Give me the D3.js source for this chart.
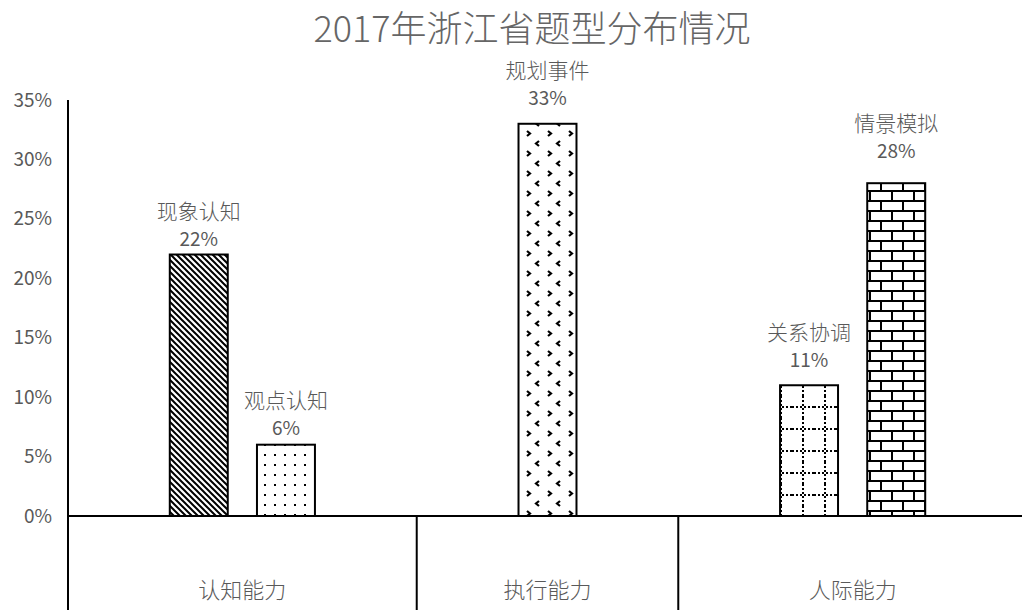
<!DOCTYPE html>
<html>
<head>
<meta charset="utf-8">
<script src="https://cdn.jsdelivr.net/npm/d3@7"></script>
<style>
  body { margin: 0; background: #fff; }
</style>
</head>
<body>
<div id="chart"></div>
<script>
// Chart data - groups of the category axis and one slot per sub category
// (empty names are the blank slots of the original multi-level axis)
const titleText = '2017年浙江省题型分布情况'
const groupNames = ['认知能力', '执行能力', '人际能力']
const barNames = ['', '现象认知', '观点认知', '', '', '规划事件', '', '', '关系协调', '情景模拟', '']
const barGroups = [0, 0, 0, 0, 1, 1, 1, 2, 2, 2, 2]
const barValues = [null, 0.22, 0.06, null, null, 0.33, null, null, 0.11, 0.28, null]
const yTicks = [0, 0.05, 0.10, 0.15, 0.20, 0.25, 0.30, 0.35]

// Fill pattern used for each named bar
const patternFor = {
  '现象认知': 'p-diag',
  '观点认知': 'p-dots',
  '规划事件': 'p-divot',
  '关系协调': 'p-grid',
  '情景模拟': 'p-brick'
}
// Labels were moved by hand in the original, so gap (px) above each bar
const labelGap = {
  '现象认知': 16,
  '观点认知': 17,
  '规划事件': 26,
  '关系协调': 25,
  '情景模拟': 32
}

const width = 1022
const height = 610
const margin = {left: 68, right: -5, top: 100, bottom: 94}
const textColor = '#595959'
const font = '"Noto Sans CJK SC", "Noto Sans", sans-serif'

const svg = d3.select('#chart')
  .append('svg')
  .attr('width', width)
  .attr('height', height)
  .style('font-family', font)

svg.append('rect')
  .attr('width', width)
  .attr('height', height)
  .attr('fill', '#fff')

// Patterns
const defs = svg.append('defs')

function makePattern(id, w, h) {
  const p = defs.append('pattern')
    .attr('id', id)
    .attr('patternUnits', 'userSpaceOnUse')
    .attr('width', w).attr('height', h)
  p.append('rect').attr('width', w).attr('height', h).attr('fill', '#fff')
  return p
}

makePattern('p-diag', 6, 6).append('path')
  .attr('d', 'M-1,-1 L7,7 M-4,2 L1,7 M2,-4 L7,1')
  .attr('stroke', '#000')
  .attr('stroke-width', 2)

makePattern('p-dots', 10, 10).append('rect')
  .attr('x', 4).attr('y', 4)
  .attr('width', 2).attr('height', 2)
  .attr('fill', '#000')

makePattern('p-divot', 21, 20).append('path')
  .attr('d', 'M14,1 L11,3.5 L14,6 M2,11 L5,13.5 L2,16')
  .attr('fill', 'none')
  .attr('stroke', '#000')
  .attr('stroke-width', 2.2)

makePattern('p-grid', 22, 22).append('path')
  .attr('d', 'M0,11 H22 M11,0 V22')
  .attr('stroke', '#000')
  .attr('stroke-width', 2)
  .attr('stroke-dasharray', '2,2')

makePattern('p-brick', 22, 20).append('path')
  .attr('d', 'M0,1 H22 M0,11 H22 M1,1 V11 M12,11 V21')
  .attr('stroke', '#000')
  .attr('stroke-width', 2)
  .attr('shape-rendering', 'crispEdges')

// Scales
const x = d3.scaleBand()
  .domain(d3.range(barNames.length))
  .range([margin.left, width - margin.right])
  .paddingInner(0.335)
  .paddingOuter(0.1675)

const y = d3.scaleLinear()
  .domain([0, 0.35])
  .range([height - margin.bottom, margin.top])

// Title
svg.append('text')
  .attr('x', 532)
  .attr('y', 42)
  .attr('text-anchor', 'middle')
  .style('font-size', '36px')
  .style('font-weight', 300)
  .style('fill', '#666')
  .text(titleText)

// Y axis labels
const yAxis = svg.append('g')
  .attr('transform', `translate(${margin.left},0)`)
  .call(d3.axisLeft(y)
    .tickValues(yTicks)
    .tickFormat(d3.format('.0%'))
    .tickSize(0)
    .tickPadding(16))
yAxis.select('.domain').remove()
yAxis.selectAll('text')
  .style('font-family', font)
  .style('font-size', '19px')
  .style('fill', textColor)

// Bars
const bars = barNames.map((name, i) => ({name: name, value: barValues[i], index: i}))
  .filter(d => d.value !== null)

svg.append('g')
  .selectAll('rect')
  .data(bars)
  .join('rect')
  .attr('x', d => x(d.index))
  .attr('y', d => y(d.value))
  .attr('width', x.bandwidth())
  .attr('height', d => y(0) - y(d.value))
  .attr('fill', d => `url(#${patternFor[d.name]})`)
  .attr('stroke', '#000')
  .attr('stroke-width', 2)

// Bar labels - name above value
const gLabels = svg.append('g')
  .style('fill', textColor)
  .attr('text-anchor', 'middle')

gLabels.selectAll('.bar-value')
  .data(bars)
  .join('text')
  .attr('class', 'bar-value')
  .attr('x', d => x(d.index) + x.bandwidth() / 2)
  .attr('y', d => y(d.value) - labelGap[d.name] + 7)
  .style('font-size', '19px')
  .text(d => d3.format('.0%')(d.value))

gLabels.selectAll('.bar-name')
  .data(bars)
  .join('text')
  .attr('class', 'bar-name')
  .attr('x', d => x(d.index) + x.bandwidth() / 2)
  .attr('y', d => y(d.value) - labelGap[d.name] - 20)
  .style('font-size', '21px')
  .style('font-weight', 300)
  .text(d => d.name)

// Category axis: horizontal line, group dividers and group labels
const step = x.step()
const groupExtents = groupNames.map((g, gi) => {
  const idx = barGroups.map((b, i) => b === gi ? i : -1).filter(i => i >= 0)
  return {
    name: g,
    x0: margin.left + d3.min(idx) * step,
    x1: margin.left + (d3.max(idx) + 1) * step
  }
})

const gAxis = svg.append('g')
  .attr('stroke', '#000')
  .attr('stroke-width', 2)

gAxis.append('line')
  .attr('x1', margin.left)
  .attr('x2', width - margin.right)
  .attr('y1', y(0))
  .attr('y2', y(0))

// Left value axis line runs down through the category area
gAxis.append('line')
  .attr('x1', margin.left)
  .attr('x2', margin.left)
  .attr('y1', y(0.35))
  .attr('y2', height)

gAxis.selectAll('.divider')
  .data(groupExtents)
  .join('line')
  .attr('class', 'divider')
  .attr('x1', d => d.x1)
  .attr('x2', d => d.x1)
  .attr('y1', y(0))
  .attr('y2', height)

svg.append('g')
  .selectAll('text')
  .data(groupExtents)
  .join('text')
  .attr('x', d => (d.x0 + d.x1) / 2)
  .attr('y', 598)
  .attr('text-anchor', 'middle')
  .style('font-size', '22px')
  .style('font-weight', 300)
  .style('fill', textColor)
  .text(d => d.name)
</script>
</body>
</html>
